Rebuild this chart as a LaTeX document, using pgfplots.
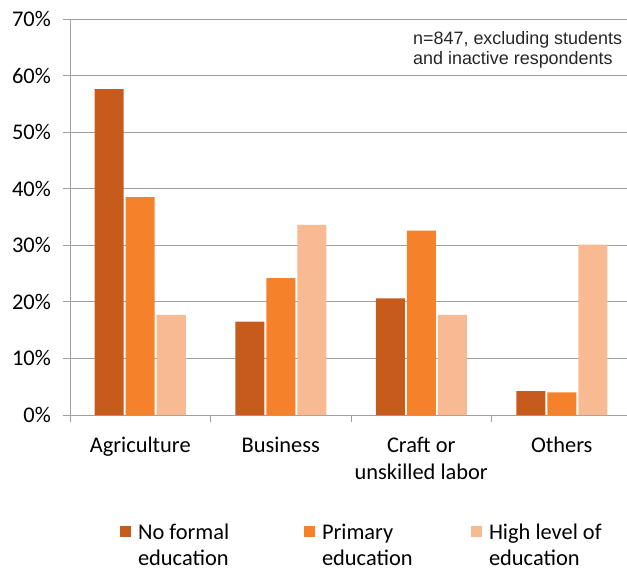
\documentclass[border=0pt]{standalone}
\usepackage{fontspec}
\setmainfont{Carlito}
\newfontfamily\arialfont{Liberation Sans}
\usepackage{pgfplots}
\pgfplotsset{compat=1.18}
\definecolor{cdark}{HTML}{C65B1B}
\definecolor{cmid}{HTML}{F5822A}
\definecolor{clight}{HTML}{F8BA92}
\definecolor{gridgray}{HTML}{A0A0A0}
\begin{document}
\begin{tikzpicture}
\begin{axis}[
  scale only axis,
  width=562bp, height=396bp,
  ymin=0, ymax=70,
  xmin=-0.5, xmax=3.5,
  ytick={0,10,...,70},
  yticklabel={\pgfmathprintnumber{\tick}\%},
  /pgf/number format/assume math mode=true,
  xtick={0,1,2,3},
  xticklabels={Agriculture,Business,{Craft or\\unskilled labor},Others},
  minor xtick={-0.5,0.5,1.5,2.5,3.5},
  major x tick style={draw=none},
  tick align=outside,
  major tick length=7bp,
  minor tick length=7bp,
  tick style={gridgray, line width=0.8bp},
  axis x line*=bottom,
  axis y line*=left,
  axis line style={gridgray, line width=0.8bp, -},
  ymajorgrids,
  grid style={gridgray, line width=0.8bp},
  ybar=2bp,
  bar width=29bp,
  every tick label/.append style={font=\fontsize{22.5}{27}\selectfont, inner sep=0pt},
  xticklabel style={align=center, yshift=-15bp},
  yticklabel style={xshift=-12bp},
  legend columns=3,
  legend image code/.code={\fill[#1] (0bp,2bp) rectangle (11bp,13bp);},
  legend style={draw=none, inner sep=0pt, outer sep=0pt,
    at={(axis description cs:0.0890,-0.274)}, anchor=north west,
    font=\fontsize{22.5}{27}\selectfont,
    nodes={inner sep=0pt},
    cells={anchor=base west},
    /tikz/every odd column/.style={column sep=7bp},
    /tikz/every even column/.style={column sep=0bp}},
]
\addplot[fill=cdark, draw=none] coordinates {(0,57.6) (1,16.5) (2,20.6) (3,4.2)};
\addplot[fill=cmid, draw=none] coordinates {(0,38.5) (1,24.2) (2,32.6) (3,4.0)};
\addplot[fill=clight, draw=none] coordinates {(0,17.7) (1,33.6) (2,17.7) (3,30.1)};
\legend{\parbox[t]{166bp}{No formal\\education},\parbox[t]{149bp}{Primary\\education},\parbox[t]{130bp}{High level of\\education}}
\node[anchor=north west, inner sep=0pt, align=left, font=\arialfont\fontsize{18}{21}\selectfont, text=black!85]
  at (axis description cs:0.6103,0.970) {n=847, excluding students\\and inactive respondents};
\end{axis}
\pgfresetboundingbox
\path (current axis.south west) ++(-70bp,-156bp) rectangle ++(627bp,571bp);
\end{tikzpicture}
\end{document}
